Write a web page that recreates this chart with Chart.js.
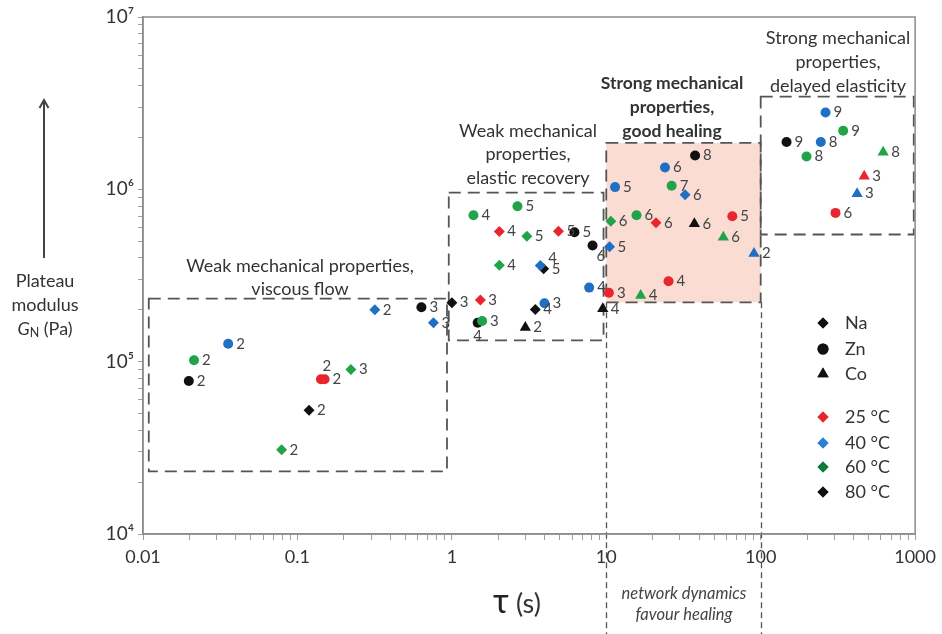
<!DOCTYPE html>
<html><head><meta charset="utf-8">
<script src="https://cdn.jsdelivr.net/npm/chart.js@4.4.1/dist/chart.umd.min.js"></script>
<style>html,body{margin:0;padding:0;background:#fff;}canvas{display:block;}</style>
</head><body>
<canvas id="c" width="942" height="634"></canvas>
<script>
// ---------- DATA ----------
const tempValues = [25, 40, 60, 80];
const tempLabels = ['25 °C', '40 °C', '60 °C', '80 °C'];
const metalNames = ['Na', 'Zn', 'Co'];

// Na (diamonds)
const naTau  = [0.079, 0.119, 0.222, 0.317, 0.76, 1.0, 2.03, 3.06, 4.9, 2.03, 3.74, 3.93, 1.53, 3.47, 32.4, 10.7, 21.0, 10.5];
const naG    = [3.08e4, 5.23e4, 9.0e4, 2.0e5, 1.68e5, 2.2e5, 5.69e5, 5.34e5, 5.71e5, 3.63e5, 3.62e5, 3.46e5, 2.28e5, 2.01e5, 9.3e5, 6.53e5, 6.39e5, 4.64e5];
const naTemp = [60, 80, 60, 40, 40, 80, 25, 60, 25, 60, 40, 80, 25, 80, 40, 60, 25, 40];
const naNum  = [2, 2, 3, 2, 3, 3, 4, 5, 5, 4, 4, 5, 3, 4, 6, 6, 6, 5];

// Zn (circles)
const znTau  = [0.0356, 0.0214, 0.0198, 0.142, 0.150, 0.635, 2.66, 1.38, 6.22, 8.15, 7.75, 10.4, 3.98, 1.47, 1.57, 37.6, 24.0, 11.4, 26.5, 15.7, 65.5, 25.3, 263, 342, 147, 245, 198, 305];
const znG    = [1.27e5, 1.02e5, 7.73e4, 7.9e4, 7.9e4, 2.07e5, 7.97e5, 7.07e5, 5.64e5, 4.72e5, 2.69e5, 2.51e5, 2.18e5, 1.68e5, 1.72e5, 1.57e6, 1.34e6, 1.03e6, 1.05e6, 7.07e5, 6.98e5, 2.93e5, 2.79e6, 2.19e6, 1.88e6, 1.88e6, 1.55e6, 7.3e5];
const znTemp = [40, 60, 80, 25, 25, 80, 60, 60, 80, 80, 40, 25, 40, 80, 60, 80, 40, 40, 60, 60, 25, 25, 40, 60, 80, 40, 60, 25];
const znNum  = [2, 2, 2, 2, 2, 3, 5, 4, 5, 6, 4, 3, 3, 4, 3, 8, 6, 5, 7, 6, 5, 4, 9, 9, 9, 8, 8, 6];

// Co (triangles)
const coTau  = [2.99, 9.49, 37.2, 57.3, 90.5, 16.7, 621, 468, 421];
const coG    = [1.58e5, 2.03e5, 6.31e5, 5.27e5, 4.24e5, 2.42e5, 1.64e6, 1.19e6, 9.44e5];
const coTemp = [80, 80, 80, 60, 40, 60, 60, 25, 40];
const coNum  = [2, 4, 6, 6, 2, 4, 8, 3, 3];

// Dashed regions (tau range, G range)
const regionTau = [[0.0109, 0.93], [0.955, 9.6], [10, 100], [100, 980]];
const regionG   = [[2.31e4, 2.32e5], [1.33e5, 9.57e5], [2.21e5, 1.86e6], [5.47e5, 3.45e6]];

const xTickValues = [0.01, 0.1, 1, 10, 100, 1000];
const xTickLabels = ['0.01', '0.1', '1', '10', '100', '1000'];
const yTickValues = [1e4, 1e5, 1e6, 1e7];
const yTickLabels = ['10⁴', '10⁵', '10⁶', '10⁷'];

// ---------- STYLE ----------
const FONT = 'Lato, "Open Sans", sans-serif';
const colorByTemp  = {25: '#e8262f', 40: '#1f70c4', 60: '#22a34a', 80: '#111111'};
const legendByTemp = {25: '#e8262f', 40: '#2a80d0', 60: '#0e7a3c', 80: '#111111'};
const styleByMetal = {Na: {pointStyle: 'rectRot', radius: 5.5}, Zn: {pointStyle: 'circle', radius: 5}, Co: {pointStyle: 'triangle', radius: 6.5}};
const labelPlacement = {'Zn:3': 'top', 'Zn:13': 'below', 'Zn:9': 'belowRight', 'Na:10': 'aboveRight'};

const series = {
  Na: {tau: naTau, g: naG, temp: naTemp, num: naNum},
  Zn: {tau: znTau, g: znG, temp: znTemp, num: znNum},
  Co: {tau: coTau, g: coG, temp: coTemp, num: coNum}
};

const datasets = [];
for (const m of metalNames) {
  for (const t of tempValues) {
    const s = series[m];
    const data = [];
    s.tau.forEach((x, i) => { if (s.temp[i] === t) data.push({x: x, y: s.g[i], n: String(s.num[i]), key: m + ':' + i}); });
    if (!data.length) continue;
    datasets.push({
      label: m + ' ' + t + ' °C', data: data,
      pointStyle: styleByMetal[m].pointStyle,
      pointRadius: styleByMetal[m].radius, pointHoverRadius: styleByMetal[m].radius,
      backgroundColor: colorByTemp[t], borderColor: colorByTemp[t], borderWidth: 0, showLine: false
    });
  }
}

function logTicks(min, max) {
  const out = [];
  for (let e = Math.round(Math.log10(min)); e <= Math.round(Math.log10(max)); e++) {
    for (let k = 1; k <= 9; k++) {
      const v = parseFloat((k * Math.pow(10, e)).toPrecision(6));
      if (v >= min * 0.999 && v <= max * 1.001) out.push({value: v});
    }
  }
  return out;
}

const regionsPlugin = {
  id: 'regions',
  beforeDatasetsDraw(chart) {
    const {ctx, scales: {x, y}} = chart;
    ctx.save();
    const pb = y.getPixelForValue(regionG[2][0]);
    ctx.strokeStyle = '#555'; ctx.lineWidth = 1.3; ctx.setLineDash([6, 4]);
    [regionTau[2][0], regionTau[2][1]].forEach(v => {
      const px = Math.round(x.getPixelForValue(v)) + 0.5;
      ctx.beginPath(); ctx.moveTo(px, pb); ctx.lineTo(px, chart.height); ctx.stroke();
    });
    regionTau.forEach((r, i) => {
      const x1 = x.getPixelForValue(r[0]), x2 = x.getPixelForValue(r[1]);
      const y1 = y.getPixelForValue(regionG[i][1]), y2 = y.getPixelForValue(regionG[i][0]);
      if (i === 2) { ctx.fillStyle = '#fadcd3'; ctx.fillRect(x1, y1, x2 - x1, y2 - y1); }
      ctx.strokeStyle = '#555'; ctx.lineWidth = 1.8; ctx.setLineDash([12, 7]);
      ctx.strokeRect(x1, y1, x2 - x1, y2 - y1);
    });
    ctx.restore();
  }
};

const labelsPlugin = {
  id: 'pointLabels',
  afterDatasetsDraw(chart) {
    const ctx = chart.ctx;
    ctx.save();
    ctx.font = '15px ' + FONT; ctx.fillStyle = '#444'; ctx.textBaseline = 'middle';
    chart.data.datasets.forEach((ds, di) => {
      const meta = chart.getDatasetMeta(di);
      meta.data.forEach((el, j) => {
        const raw = ds.data[j];
        const p = labelPlacement[raw.key] || 'right';
        let dx = 8, dy = 0, align = 'left';
        if (p === 'top') { dx = 6; dy = -13; align = 'center'; }
        else if (p === 'below') { dx = 0; dy = 13; align = 'center'; }
        else if (p === 'belowRight') { dx = 4; dy = 11; }
        else if (p === 'aboveRight') { dx = 8; dy = -7; }
        ctx.textAlign = align;
        ctx.fillText(raw.n, el.x + dx, el.y + dy);
      });
    });
    ctx.restore();
  }
};

function centerLines(ctx, lines, cx, y0, lh) {
  lines.forEach((t, i) => ctx.fillText(t, cx, y0 + i * lh));
}

const decorPlugin = {
  id: 'decor',
  afterDraw(chart) {
    const {ctx, chartArea: a} = chart;
    ctx.save();
    ctx.strokeStyle = '#8c8c8c'; ctx.lineWidth = 1.5;
    ctx.strokeRect(a.left, a.top, a.right - a.left, a.bottom - a.top);
    ctx.fillStyle = '#333'; ctx.textAlign = 'center'; ctx.textBaseline = 'middle';
    ctx.font = '18px ' + FONT;
    centerLines(ctx, ['Weak mechanical properties,', 'viscous flow'], 300, 266, 23);
    centerLines(ctx, ['Weak mechanical', 'properties,', 'elastic recovery'], 528, 131, 23.5);
    centerLines(ctx, ['Strong mechanical', 'properties,', 'delayed elasticity'], 838, 38, 24);
    ctx.font = 'bold 17.5px ' + FONT;
    centerLines(ctx, ['Strong mechanical', 'properties,', 'good healing'], 672, 83, 24);
    ctx.font = 'italic 16.5px ' + FONT; ctx.fillStyle = '#444';
    centerLines(ctx, ['network dynamics', 'favour healing'], 684, 594, 21);
    // legend
    const lx = 823, tx = 845;
    const rows = [
      {style: 'rectRot', r: 5.5, c: '#111', t: 'Na', y: 323},
      {style: 'circle', r: 5.5, c: '#111', t: 'Zn', y: 349},
      {style: 'triangle', r: 6.5, c: '#111', t: 'Co', y: 374}
    ];
    tempValues.forEach((t, i) => rows.push({style: 'rectRot', r: 5.5, c: legendByTemp[t], t: tempLabels[i], y: [417, 443, 467, 492][i]}));
    ctx.font = '18px ' + FONT; ctx.textAlign = 'left';
    rows.forEach(r => {
      ctx.fillStyle = r.c; ctx.strokeStyle = r.c;
      Chart.helpers.drawPoint(ctx, {pointStyle: r.style, radius: r.r, rotation: 0, borderWidth: 0}, lx, r.y);
      ctx.fill();
      ctx.fillStyle = '#333';
      ctx.fillText(r.t, tx, r.y);
    });
    // y-axis title + arrow
    ctx.strokeStyle = '#444'; ctx.fillStyle = '#444'; ctx.lineWidth = 2;
    ctx.beginPath(); ctx.moveTo(44, 258); ctx.lineTo(44, 101); ctx.stroke();
    ctx.beginPath(); ctx.moveTo(39.5, 108); ctx.lineTo(44, 100); ctx.lineTo(48.5, 108); ctx.stroke();
    ctx.fillStyle = '#333'; ctx.textAlign = 'center'; ctx.font = '18px ' + FONT;
    ctx.fillText('Plateau', 45, 281);
    ctx.fillText('modulus', 45, 305);
    ctx.textAlign = 'left';
    ctx.font = 'italic 18px ' + FONT; const wG = ctx.measureText('G').width;
    ctx.font = '12.5px ' + FONT; const wN = ctx.measureText('N').width;
    ctx.font = '18px ' + FONT; const wP = ctx.measureText(' (Pa)').width;
    let sx = 45 - (wG + wN + wP) / 2;
    ctx.font = 'italic 18px ' + FONT; ctx.fillText('G', sx, 329); sx += wG;
    ctx.font = '12.5px ' + FONT; ctx.fillText('N', sx, 333); sx += wN;
    ctx.font = '18px ' + FONT; ctx.fillText(' (Pa)', sx, 329);
    // x-axis title
    ctx.font = '34px ' + FONT; const wt = ctx.measureText('τ').width;
    ctx.font = '27px ' + FONT; const ws = ctx.measureText(' (s)').width;
    let tx0 = 517 - (wt + ws) / 2;
    ctx.font = '34px ' + FONT; ctx.fillStyle = '#222'; ctx.fillText('τ', tx0, 602);
    ctx.font = '27px ' + FONT; ctx.fillStyle = '#333'; ctx.fillText(' (s)', tx0 + wt, 604);
    ctx.restore();
  }
};

new Chart(document.getElementById('c'), {
  type: 'scatter',
  data: {datasets: datasets},
  options: {
    responsive: false, animation: false, devicePixelRatio: 1,
    layout: {padding: {left: 0, right: 26, top: 17, bottom: 0}},
    plugins: {legend: {display: false}, tooltip: {enabled: false}},
    scales: {
      x: {
        type: 'logarithmic', min: 0.01, max: 1000, position: 'bottom',
        afterBuildTicks: s => { s.ticks = logTicks(0.01, 1000); },
        afterFit: s => { s.height = 100; },
        grid: {drawOnChartArea: false, drawTicks: true, tickLength: 6, color: '#a0a0a0', lineWidth: 1},
        border: {display: true, color: '#8c8c8c', width: 1.5},
        ticks: {
          autoSkip: false, maxRotation: 0, padding: 6, color: '#333', font: {family: FONT, size: 18},
          callback: v => { const i = xTickValues.findIndex(t => Math.abs(t - v) / t < 1e-6); return i >= 0 ? xTickLabels[i] : ''; }
        }
      },
      y: {
        type: 'logarithmic', min: 1e4, max: 1e7,
        afterBuildTicks: s => { s.ticks = logTicks(1e4, 1e7); },
        afterFit: s => { s.width = 143; },
        grid: {drawOnChartArea: false, drawTicks: true, tickLength: 5, color: '#a0a0a0', lineWidth: 1},
        border: {display: true, color: '#8c8c8c', width: 1.5},
        ticks: {
          autoSkip: false, padding: 4, color: '#333', font: {family: FONT, size: 19},
          callback: v => { const i = yTickValues.findIndex(t => Math.abs(t - v) / t < 1e-6); return i >= 0 ? yTickLabels[i] : ''; }
        }
      }
    }
  },
  plugins: [regionsPlugin, labelsPlugin, decorPlugin]
});
</script>
</body></html>
